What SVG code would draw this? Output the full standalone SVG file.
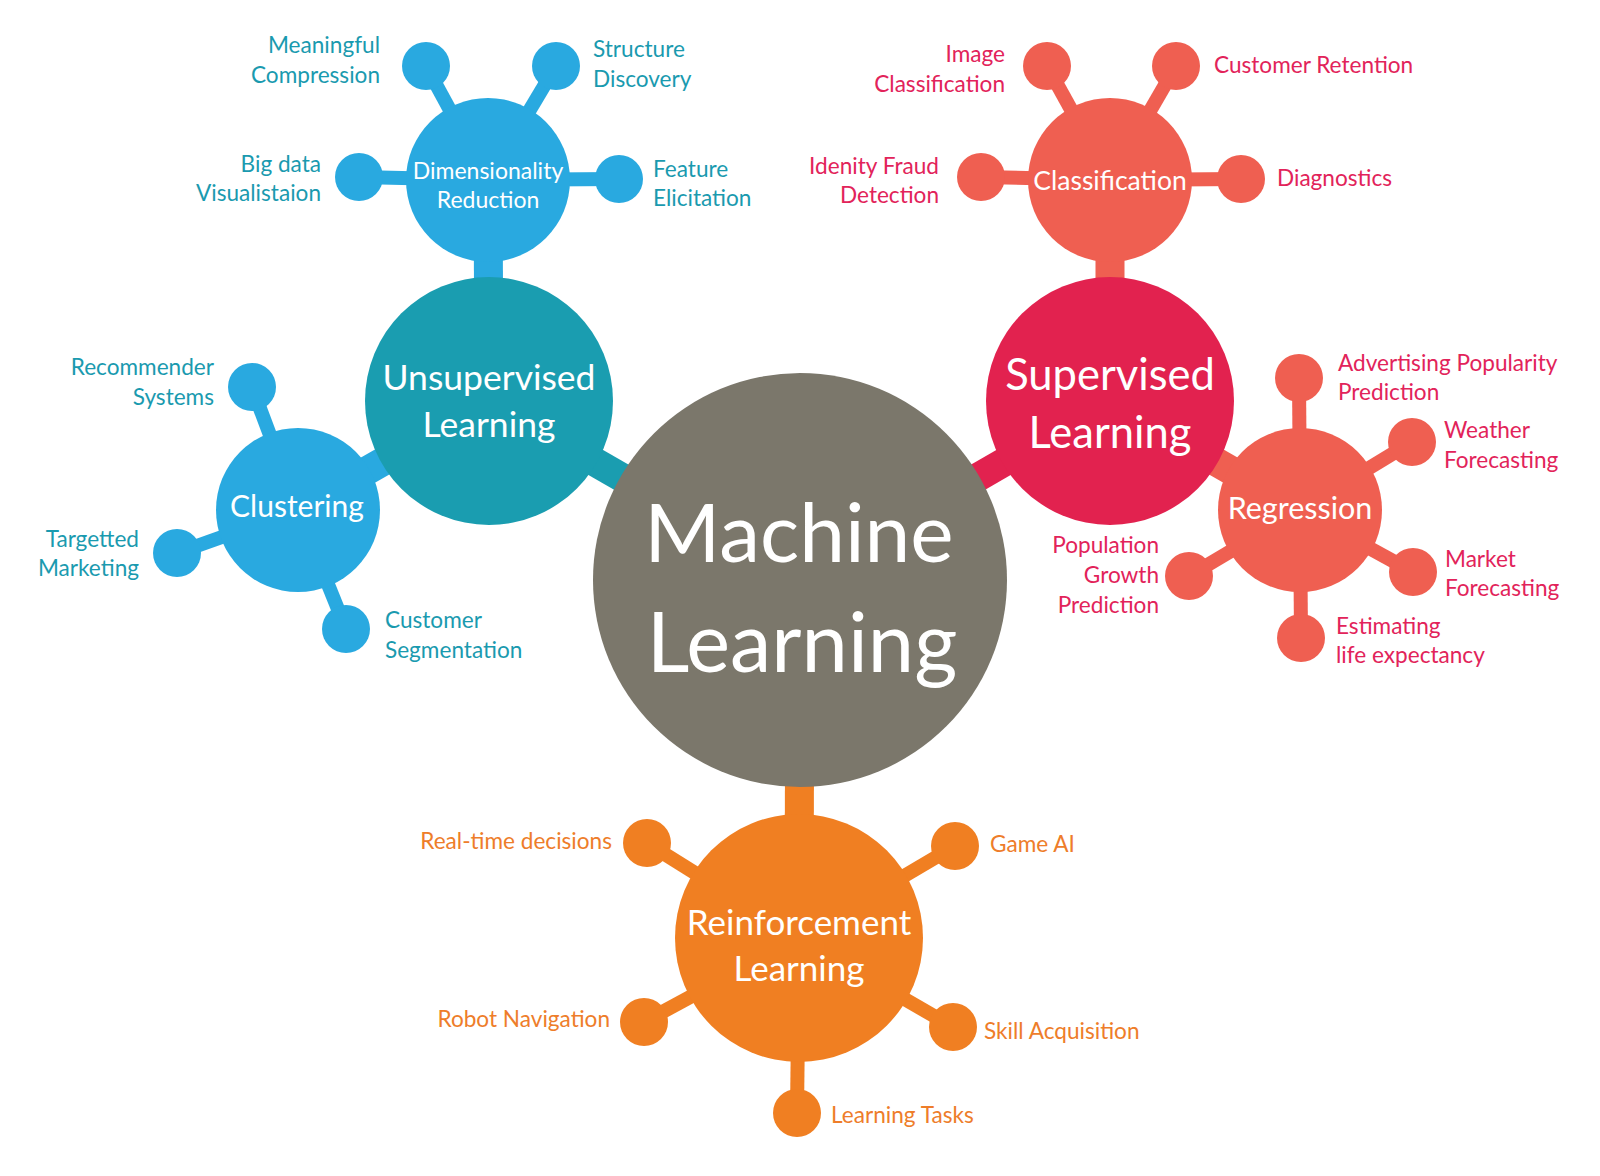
<svg xmlns="http://www.w3.org/2000/svg" width="1600" height="1176" viewBox="0 0 1600 1176">
<style>
text{font-family:Lato,"Open Sans","Liberation Sans",sans-serif}
.bg{fill:#ffffff}
.c-gray{fill:#7B776B}
.c-teal{fill:#1A9DB0}
.c-blue{fill:#29A9E0}
.c-crim{fill:#E2224F}
.c-salm{fill:#EF5F51}
.c-orng{fill:#F07F22}
.w{fill:#ffffff;text-anchor:middle}
.lt{font-size:22.6px;fill:#1A9AAF}
.lr{font-size:22.6px;fill:#E2235A}
.lo{font-size:22.6px;fill:#EE7D2A}
.e{text-anchor:end}
.s{text-anchor:start}
.major{stroke-width:29;fill:none}
.leaf{stroke-width:14;fill:none}
.k-teal{stroke:#1A9DB0}
.k-blue{stroke:#29A9E0}
.k-crim{stroke:#E2224F}
.k-salm{stroke:#EF5F51}
.k-orng{stroke:#F07F22}
</style>
<rect class="bg" x="0" y="0" width="1600" height="1176"/>
<g id="connectors">
  <line class="major k-teal" x1="800" y1="580" x2="489" y2="401"/>
  <line class="major k-crim" x1="800" y1="580" x2="1110" y2="401"/>
  <line class="major k-orng" x1="800" y1="580" x2="799" y2="938"/>
  <line class="major k-blue" x1="489" y1="401" x2="488" y2="180"/>
  <line class="major k-blue" x1="489" y1="401" x2="298" y2="510"/>
  <line class="major k-salm" x1="1110" y1="401" x2="1110" y2="180"/>
  <line class="major k-salm" x1="1110" y1="401" x2="1300" y2="510"/>
  <line class="leaf k-blue" x1="488" y1="180" x2="426" y2="66"/>
  <line class="leaf k-blue" x1="488" y1="180" x2="556" y2="66"/>
  <line class="leaf k-blue" x1="488" y1="180" x2="359" y2="177"/>
  <line class="leaf k-blue" x1="488" y1="180" x2="619" y2="179"/>
  <line class="leaf k-blue" x1="298" y1="510" x2="252" y2="387"/>
  <line class="leaf k-blue" x1="298" y1="510" x2="177" y2="553"/>
  <line class="leaf k-blue" x1="298" y1="510" x2="346" y2="629"/>
  <line class="leaf k-salm" x1="1110" y1="180" x2="1047" y2="66"/>
  <line class="leaf k-salm" x1="1110" y1="180" x2="1176" y2="66"/>
  <line class="leaf k-salm" x1="1110" y1="180" x2="981" y2="177"/>
  <line class="leaf k-salm" x1="1110" y1="180" x2="1241" y2="179"/>
  <line class="leaf k-salm" x1="1300" y1="510" x2="1299" y2="378"/>
  <line class="leaf k-salm" x1="1300" y1="510" x2="1412" y2="442"/>
  <line class="leaf k-salm" x1="1300" y1="510" x2="1413" y2="572"/>
  <line class="leaf k-salm" x1="1300" y1="510" x2="1301" y2="638"/>
  <line class="leaf k-salm" x1="1300" y1="510" x2="1189" y2="576"/>
  <line class="leaf k-orng" x1="799" y1="938" x2="647" y2="843"/>
  <line class="leaf k-orng" x1="799" y1="938" x2="955" y2="846"/>
  <line class="leaf k-orng" x1="799" y1="938" x2="644" y2="1022"/>
  <line class="leaf k-orng" x1="799" y1="938" x2="953" y2="1027"/>
  <line class="leaf k-orng" x1="799" y1="938" x2="797" y2="1113"/>
</g>

<g id="machine-learning">
  <circle class="c-gray" cx="800" cy="580" r="207"/>
  <text class="w" x="799" y="562" font-size="82">Machine</text>
  <text class="w" x="802" y="672" font-size="83">Learning</text>
</g>

<g id="unsupervised-learning">
  <circle class="c-teal" cx="489" cy="401" r="124"/>
  <text class="w" x="489" y="390" font-size="35.5">Unsupervised</text>
  <text class="w" x="489" y="437" font-size="35.5">Learning</text>
</g>
<g id="supervised-learning">
  <circle class="c-crim" cx="1110" cy="401" r="124"/>
  <text class="w" x="1110" y="390" font-size="43.5">Supervised</text>
  <text class="w" x="1110" y="448" font-size="43.5">Learning</text>
</g>
<g id="reinforcement-learning">
  <circle class="c-orng" cx="799" cy="938" r="124"/>
  <text class="w" x="799" y="935" font-size="35">Reinforcement</text>
  <text class="w" x="799" y="981" font-size="35">Learning</text>
</g>

<g id="dimensionality-reduction">
  <circle class="c-blue" cx="488" cy="180" r="82"/>
  <text class="w" x="488" y="179" font-size="23">Dimensionality</text>
  <text class="w" x="488" y="208" font-size="23">Reduction</text>
</g>
<g id="clustering">
  <circle class="c-blue" cx="298" cy="510" r="82"/>
  <text class="w" x="297" y="517" font-size="30">Clustering</text>
</g>
<g id="classification">
  <circle class="c-salm" cx="1110" cy="180" r="82"/>
  <text class="w" x="1110" y="190" font-size="26.5">Classification</text>
</g>
<g id="regression">
  <circle class="c-salm" cx="1300" cy="510" r="82"/>
  <text class="w" x="1300" y="519" font-size="30.5">Regression</text>
</g>

<g id="leaf-meaningful-compression">
  <circle class="c-blue" cx="426" cy="66" r="24"/>
  <text class="lt e" x="380" y="53">Meaningful</text>
  <text class="lt e" x="380" y="83">Compression</text>
</g>
<g id="leaf-structure-discovery">
  <circle class="c-blue" cx="556" cy="66" r="24"/>
  <text class="lt s" x="593" y="57">Structure</text>
  <text class="lt s" x="593" y="87">Discovery</text>
</g>
<g id="leaf-big-data-visualistaion">
  <circle class="c-blue" cx="359" cy="177" r="24"/>
  <text class="lt e" x="321" y="172">Big data</text>
  <text class="lt e" x="321" y="201">Visualistaion</text>
</g>
<g id="leaf-feature-elicitation">
  <circle class="c-blue" cx="619" cy="179" r="24"/>
  <text class="lt s" x="653" y="177">Feature</text>
  <text class="lt s" x="653" y="206">Elicitation</text>
</g>
<g id="leaf-recommender-systems">
  <circle class="c-blue" cx="252" cy="387" r="24"/>
  <text class="lt e" x="214" y="375">Recommender</text>
  <text class="lt e" x="214" y="405">Systems</text>
</g>
<g id="leaf-targetted-marketing">
  <circle class="c-blue" cx="177" cy="553" r="24"/>
  <text class="lt e" x="139" y="547">Targetted</text>
  <text class="lt e" x="139" y="576">Marketing</text>
</g>
<g id="leaf-customer-segmentation">
  <circle class="c-blue" cx="346" cy="629" r="24"/>
  <text class="lt s" x="385" y="628">Customer</text>
  <text class="lt s" x="385" y="658">Segmentation</text>
</g>

<g id="leaf-image-classification">
  <circle class="c-salm" cx="1047" cy="66" r="24"/>
  <text class="lr e" x="1005" y="62">Image</text>
  <text class="lr e" x="1005" y="92">Classification</text>
</g>
<g id="leaf-customer-retention">
  <circle class="c-salm" cx="1176" cy="66" r="24"/>
  <text class="lr s" x="1214" y="73">Customer Retention</text>
</g>
<g id="leaf-idenity-fraud-detection">
  <circle class="c-salm" cx="981" cy="177" r="24"/>
  <text class="lr e" x="939" y="174">Idenity Fraud</text>
  <text class="lr e" x="939" y="203">Detection</text>
</g>
<g id="leaf-diagnostics">
  <circle class="c-salm" cx="1241" cy="179" r="24"/>
  <text class="lr s" x="1277" y="186">Diagnostics</text>
</g>
<g id="leaf-advertising-popularity-prediction">
  <circle class="c-salm" cx="1299" cy="378" r="24"/>
  <text class="lr s" x="1338" y="371">Advertising Popularity</text>
  <text class="lr s" x="1338" y="400">Prediction</text>
</g>
<g id="leaf-weather-forecasting">
  <circle class="c-salm" cx="1412" cy="442" r="24"/>
  <text class="lr s" x="1444" y="438">Weather</text>
  <text class="lr s" x="1444" y="468">Forecasting</text>
</g>
<g id="leaf-market-forecasting">
  <circle class="c-salm" cx="1413" cy="572" r="24"/>
  <text class="lr s" x="1445" y="567">Market</text>
  <text class="lr s" x="1445" y="596">Forecasting</text>
</g>
<g id="leaf-estimating-life-expectancy">
  <circle class="c-salm" cx="1301" cy="638" r="24"/>
  <text class="lr s" x="1336" y="634">Estimating</text>
  <text class="lr s" x="1336" y="663">life expectancy</text>
</g>
<g id="leaf-population-growth-prediction">
  <circle class="c-salm" cx="1189" cy="576" r="24"/>
  <text class="lr e" x="1159" y="553">Population</text>
  <text class="lr e" x="1159" y="583">Growth</text>
  <text class="lr e" x="1159" y="613">Prediction</text>
</g>

<g id="leaf-real-time-decisions">
  <circle class="c-orng" cx="647" cy="843" r="24"/>
  <text class="lo e" x="612" y="849">Real-time decisions</text>
</g>
<g id="leaf-game-ai">
  <circle class="c-orng" cx="955" cy="846" r="24"/>
  <text class="lo s" x="990" y="852">Game AI</text>
</g>
<g id="leaf-robot-navigation">
  <circle class="c-orng" cx="644" cy="1022" r="24"/>
  <text class="lo e" x="610" y="1027">Robot Navigation</text>
</g>
<g id="leaf-skill-acquisition">
  <circle class="c-orng" cx="953" cy="1027" r="24"/>
  <text class="lo s" x="984" y="1039">Skill Acquisition</text>
</g>
<g id="leaf-learning-tasks">
  <circle class="c-orng" cx="797" cy="1113" r="24"/>
  <text class="lo s" x="831" y="1123">Learning Tasks</text>
</g>
</svg>
